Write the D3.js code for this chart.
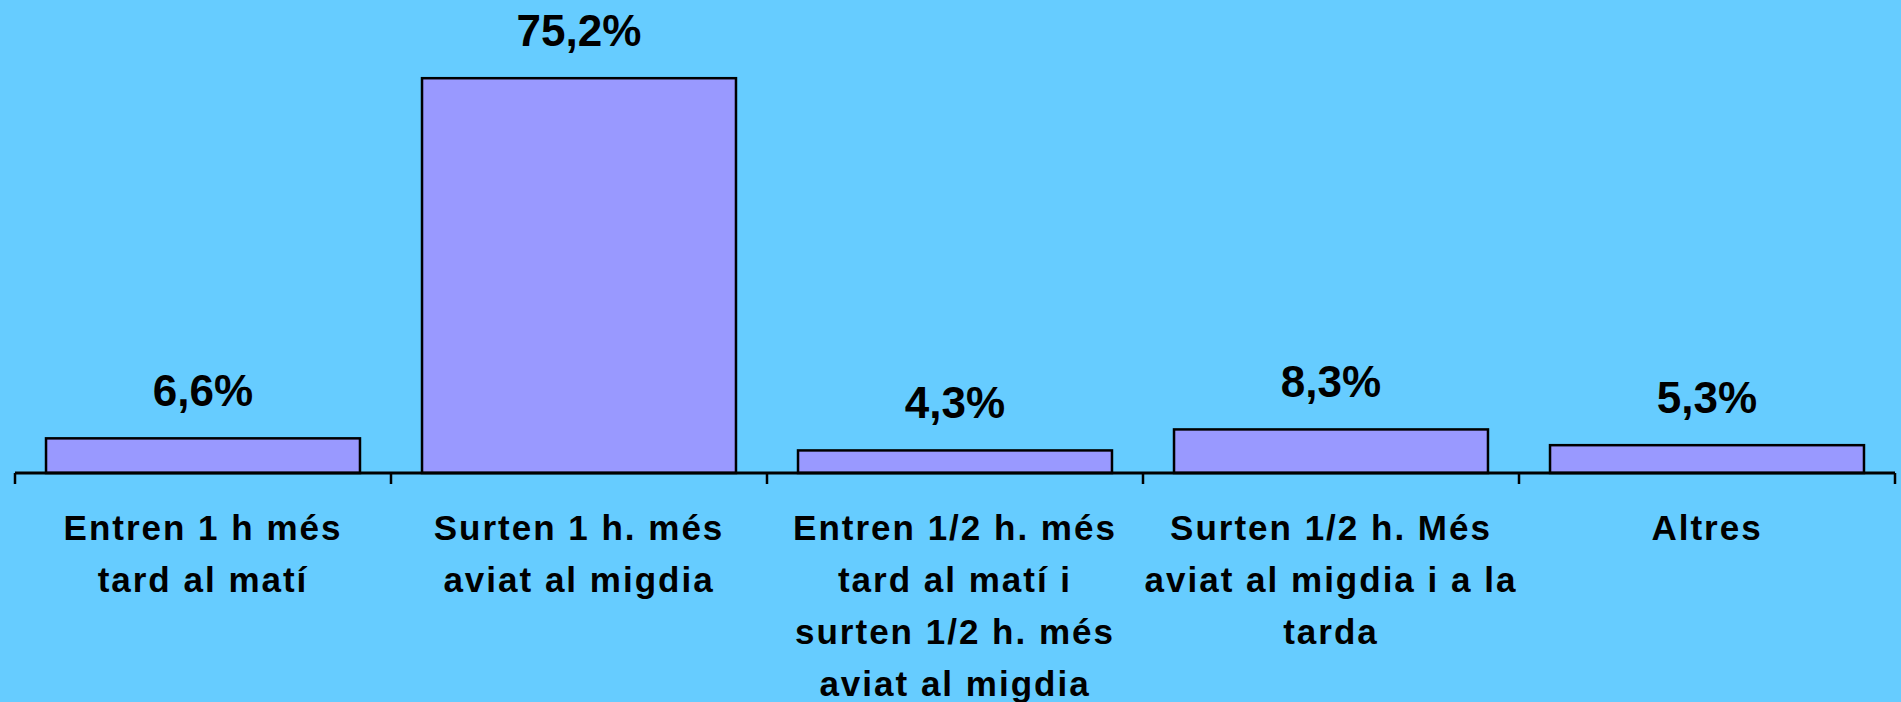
<!DOCTYPE html>
<html>
<head>
<meta charset="utf-8">
<script src="https://cdn.jsdelivr.net/npm/d3@7"></script>
<style>
  html, body { margin: 0; padding: 0; background: #66ccff; }
  svg { display: block; }
</style>
</head>
<body>
<svg width="1901" height="702"></svg>
<script>
// dades del grafic
var categories = [
  "Entren 1 h més\ntard al matí",
  "Surten 1 h. més\naviat al migdia",
  "Entren 1/2 h. més\ntard al matí i\nsurten 1/2 h. més\naviat al migdia",
  "Surten 1/2 h. Més\naviat al migdia i a la\ntarda",
  "Altres"
];
var values = [6.6, 75.2, 4.3, 8.3, 5.3];
var valueLabels = ["6,6%", "75,2%", "4,3%", "8,3%", "5,3%"];

var svg = d3.select("svg");

var xScale = d3.scaleBand()
    .domain(categories)
    .range([15, 1895])
    .paddingInner(0.165)
    .paddingOuter(0.0825);

var yScale = d3.scaleLinear()
    .domain([0, 80])
    .range([473, 53]);

var step = xScale.step();
var half = step * xScale.paddingInner() / 2;

// barres
svg.selectAll(".bar")
   .data(values)
   .enter().append("rect")
   .attr("class", "bar")
   .attr("x", function(d, i) { return xScale(categories[i]); })
   .attr("y", function(d) { return yScale(d); })
   .attr("width", xScale.bandwidth())
   .attr("height", function(d) { return yScale(0) - yScale(d); })
   .attr("fill", "#9999ff")
   .attr("stroke", "#000")
   .attr("stroke-width", 2.5);

// eix x
svg.append("line")
   .attr("x1", xScale.range()[0]).attr("x2", xScale.range()[1])
   .attr("y1", yScale(0)).attr("y2", yScale(0))
   .attr("stroke", "#000").attr("stroke-width", 3);

var tickPos = categories.map(function(c) { return xScale(c) - half; });
tickPos.push(xScale(categories[categories.length - 1]) + xScale.bandwidth() + half);

svg.selectAll(".tick")
   .data(tickPos)
   .enter().append("line")
   .attr("x1", function(d) { return d; }).attr("x2", function(d) { return d; })
   .attr("y1", yScale(0)).attr("y2", yScale(0) + 11)
   .attr("stroke", "#000").attr("stroke-width", 2.5);

// etiquetes de valor
svg.selectAll(".val")
   .data(values)
   .enter().append("text")
   .attr("class", "val")
   .attr("x", function(d, i) { return xScale(categories[i]) + xScale.bandwidth() / 2; })
   .attr("y", function(d) { return yScale(d) - 32; })
   .attr("text-anchor", "middle")
   .style("font-family", "Arial, 'Liberation Sans', sans-serif")
   .style("font-weight", "bold")
   .style("font-size", "44px")
   .text(function(d, i) { return valueLabels[i]; });

// etiquetes de categoria
var cat = svg.selectAll(".cat")
   .data(categories)
   .enter().append("text")
   .attr("class", "cat")
   .attr("text-anchor", "middle")
   .style("font-family", "Arial, 'Liberation Sans', sans-serif")
   .style("font-weight", "bold")
   .style("font-size", "35px")
   .style("letter-spacing", "2px");

cat.each(function(c) {
  var t = d3.select(this);
  var cx = xScale(c) + xScale.bandwidth() / 2;
  c.split("\n").forEach(function(line, j) {
    t.append("tspan")
     .attr("x", cx)
     .attr("y", 540 + j * 52)
     .text(line);
  });
});
</script>
</body>
</html>
